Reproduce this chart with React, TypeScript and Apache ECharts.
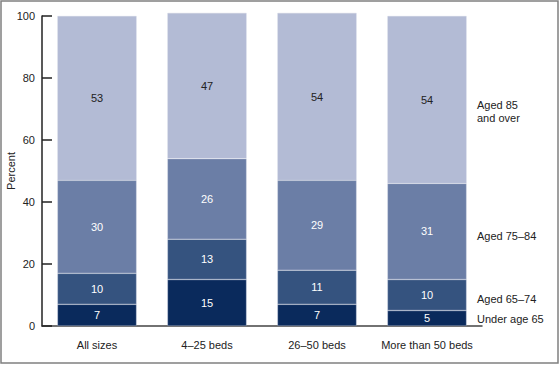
import React, { useEffect, useRef } from "react";
import * as echarts from "echarts";

const categories = ["All sizes", "4–25 beds", "26–50 beds", "More than 50 beds"];
const under65 = [7, 15, 7, 5];
const aged65to74 = [10, 13, 11, 10];
const aged75to84 = [30, 26, 29, 31];
const aged85plus = [53, 47, 54, 54];
const yTicks = [0, 20, 40, 60, 80, 100];

const FONT = "Arial, 'Liberation Sans', Helvetica, sans-serif";

export default function App() {
  const ref = useRef<HTMLDivElement>(null);
  useEffect(() => {
    if (!ref.current) return;
    const chart = echarts.init(ref.current, undefined, { renderer: "svg" });
    const mk = (name: string, data: number[], color: string, labelColor: string) => ({
      name,
      type: "bar",
      stack: "total",
      data,
      barWidth: "72%",
      clip: false,
      itemStyle: { color, borderColor: "rgba(200,205,222,0.6)", borderWidth: 0.6 },
      label: {
        show: true,
        position: "inside",
        color: labelColor,
        fontSize: 11,
        fontFamily: FONT,
      },
      emphasis: { disabled: true },
    });
    chart.setOption({
      animation: false,
      backgroundColor: "#ffffff",
      textStyle: { fontFamily: FONT },
      grid: { left: 42, right: 78, top: 16, bottom: 39, containLabel: false, outerBoundsMode: "none" },
      xAxis: {
        type: "category",
        data: categories,
        axisLine: { show: true, lineStyle: { color: "#444", width: 1.5 } },
        axisTick: { show: false },
        axisLabel: { color: "#222", fontSize: 11, margin: 13, fontFamily: FONT, interval: 0 },
      },
      yAxis: {
        type: "value",
        min: yTicks[0],
        max: yTicks[yTicks.length - 1],
        interval: 20,
        name: "Percent",
        nameLocation: "middle",
        nameRotate: 90,
        nameGap: 26,
        nameMoveOverlap: false,
        nameTextStyle: { color: "#222", fontSize: 11, fontFamily: FONT },
        axisLine: { show: true, lineStyle: { color: "#222", width: 1.5 } },
        axisTick: { show: true, inside: true, length: 10, lineStyle: { color: "#222", width: 1.5 } },
        axisLabel: { color: "#222", fontSize: 11, margin: 7, fontFamily: FONT },
        splitLine: { show: false },
      },
      series: [
        mk("Under age 65", under65, "#0a2a5c", "#ffffff"),
        mk("Aged 65–74", aged65to74, "#35537f", "#ffffff"),
        mk("Aged 75–84", aged75to84, "#6b7ea6", "#ffffff"),
        mk("Aged 85 and over", aged85plus, "#b3bbd5", "#222222"),
      ],
      graphic: [
        {
          type: "rect",
          shape: { x: 1, y: 1, width: 557, height: 362 },
          style: { fill: "none", stroke: "#808080", lineWidth: 1.5 },
          silent: true,
        },
        {
          type: "text",
          x: 477,
          y: 98,
          style: { text: "Aged 85\nand over", fill: "#222", font: `11px ${FONT}`, lineHeight: 13 },
        },
        {
          type: "text",
          x: 477,
          y: 230,
          style: { text: "Aged 75–84", fill: "#222", font: `11px ${FONT}` },
        },
        {
          type: "text",
          x: 477,
          y: 293,
          style: { text: "Aged 65–74", fill: "#222", font: `11px ${FONT}` },
        },
        {
          type: "text",
          x: 477,
          y: 313,
          style: { text: "Under age 65", fill: "#222", font: `11px ${FONT}` },
        },
      ],
    });
    return () => chart.dispose();
  }, []);
  return (
    <div
      ref={ref}
      style={{ position: "fixed", left: 0, top: 0, width: 560, height: 365 }}
    />
  );
}
